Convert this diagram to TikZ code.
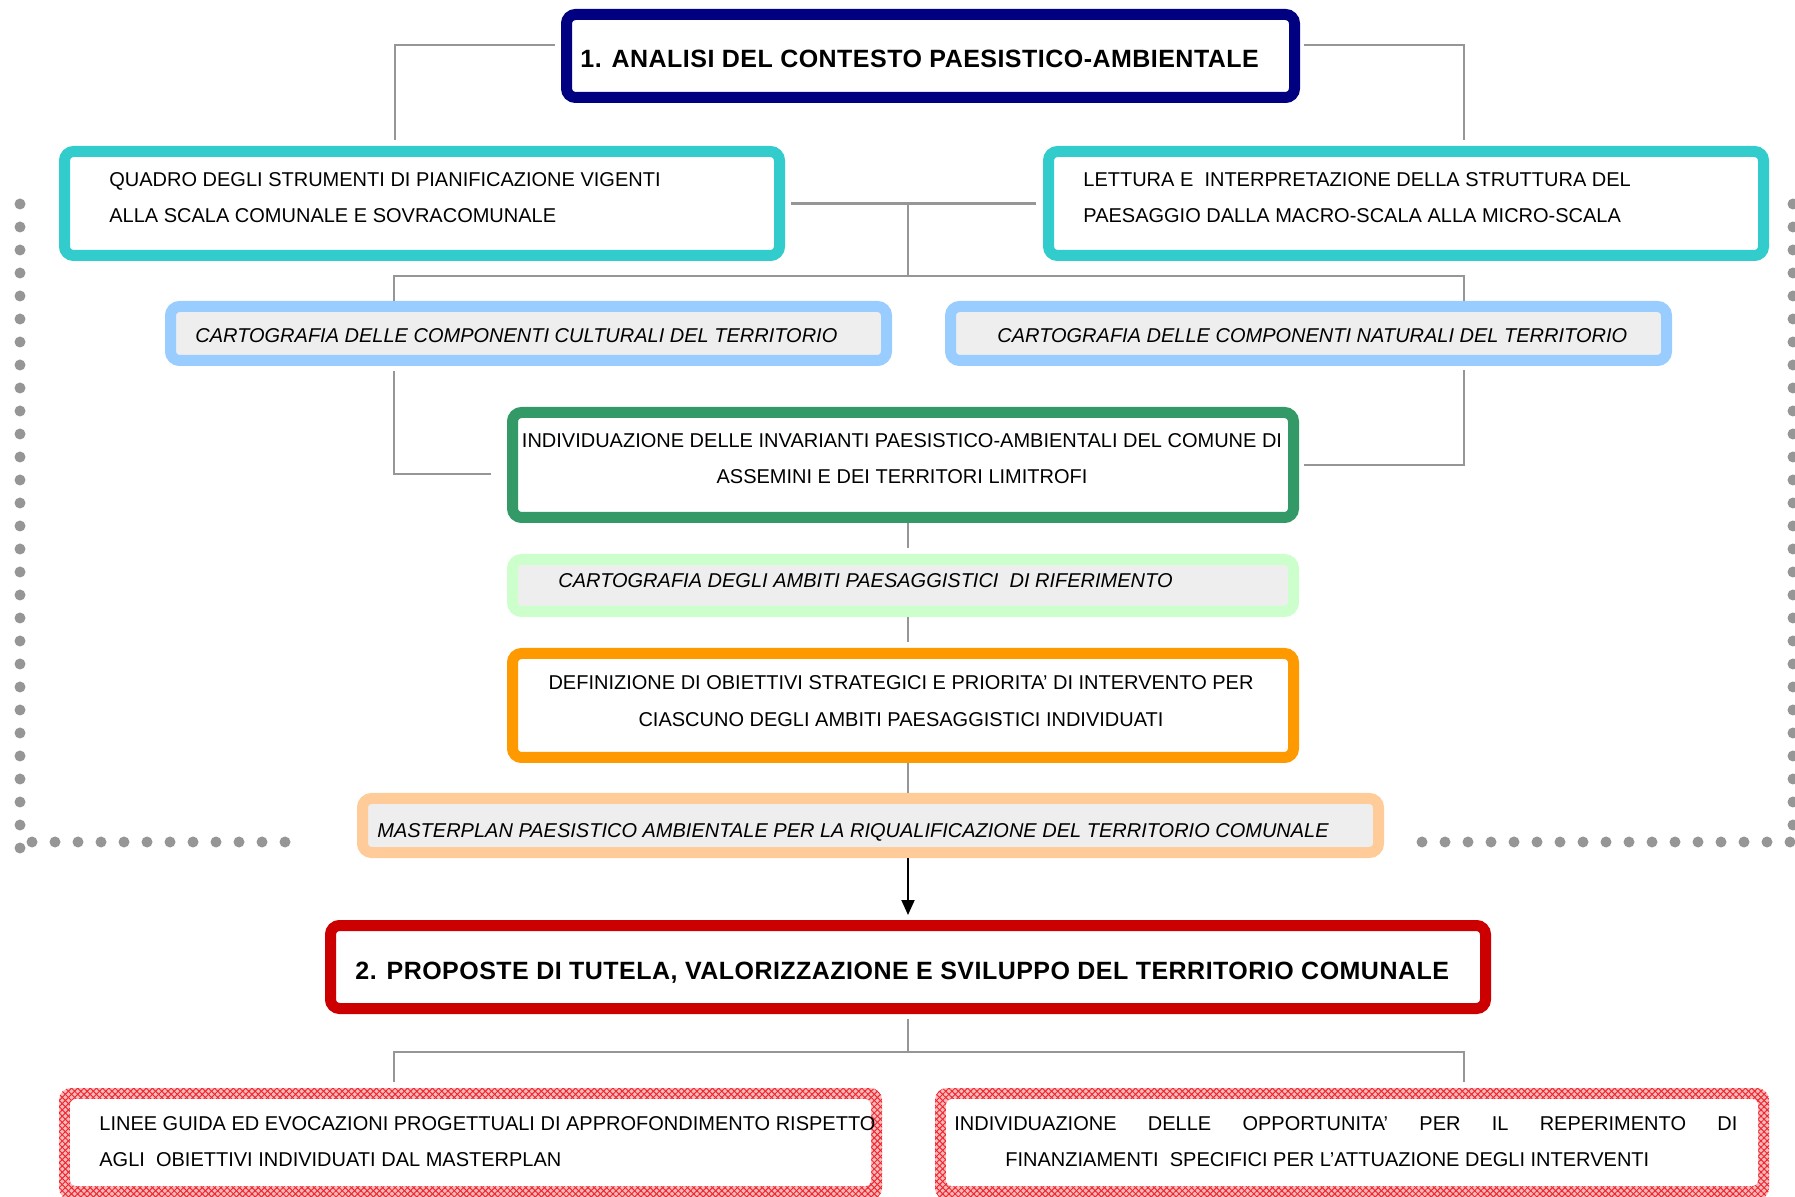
\documentclass[tikz,border=0pt]{standalone}
\usepackage{fontspec}
\setmainfont{Liberation Sans}
\usetikzlibrary{arrows.meta,patterns.meta}
\definecolor{cnavy}{RGB}{0,0,128}
\definecolor{ccyan}{RGB}{51,204,204}
\definecolor{clblue}{RGB}{153,204,255}
\definecolor{cgreen}{RGB}{51,153,102}
\definecolor{clgreen}{RGB}{204,255,204}
\definecolor{corange}{RGB}{255,153,0}
\definecolor{cpeach}{RGB}{255,204,153}
\definecolor{cred}{RGB}{204,0,0}
\definecolor{cpinkbase}{RGB}{255,185,185}
\definecolor{cpinkline}{RGB}{235,40,50}
\definecolor{cgray}{RGB}{150,150,150}
\definecolor{cstip}{RGB}{238,238,238}
\tikzset{
  boxnode/.style={draw=#1, rounded corners=4.5pt, line width=5.5pt, fill=white, inner sep=0pt},
  stipnode/.style={draw=#1, rounded corners=4.5pt, line width=5.5pt, fill=cstip, inner sep=0pt},
  pinkout/.style={rounded corners=6pt, inner sep=0pt, outer sep=0pt, fill=cpinkbase,
    postaction={pattern={Lines[angle=45,distance=2.2pt,line width=0.5pt]}, pattern color=cpinkline},
    postaction={pattern={Lines[angle=-45,distance=2.2pt,line width=0.5pt]}, pattern color=cpinkline}},
  pinkin/.style={rounded corners=3pt, inner sep=0pt, outer sep=0pt, fill=white},
  conn/.style={draw=cgray, line width=1.2pt},
  dotc/.style={fill=cgray, draw=none},
  txt/.style={inner sep=0pt, font=\fontsize{10pt}{12pt}\selectfont},
  itxt/.style={inner sep=0pt, font=\fontsize{10pt}{12pt}\selectfont\itshape},
  btxt/.style={inner sep=0pt, font=\fontsize{12.5pt}{15pt}\selectfont\bfseries\addfontfeature{LetterSpace=1.9}},
}
\begin{document}
\begin{tikzpicture}[x=0.5pt,y=-0.5pt]
\useasboundingbox (0,0) rectangle (1795,1197);

% dotted frame
\foreach \k in {0,...,28} \fill[dotc] (20,204+23*\k) circle (2.75pt);
\foreach \k in {0,...,11} \fill[dotc] (32+23*\k,842) circle (2.75pt);
\foreach \k in {0,...,16} \fill[dotc] (1422+23*\k,842) circle (2.75pt);
\foreach \k in {0,...,27} \fill[dotc] (1793,204+23*\k) circle (2.75pt);

% boxes
\node[boxnode=cnavy, minimum width=364pt, minimum height=41.5pt] (navy) at (930.5,56) {};
\node[boxnode=ccyan, minimum width=357.5pt, minimum height=52pt] (cyanL) at (422,203.5) {};
\node[boxnode=ccyan, minimum width=357.5pt, minimum height=52pt] (cyanR) at (1406,203.5) {};
\node[stipnode=clblue, minimum width=358pt, minimum height=27pt] (blueL) at (528.5,333.5) {};
\node[stipnode=clblue, minimum width=358pt, minimum height=27pt] (blueR) at (1308.5,333.5) {};
\node[boxnode=cgreen, minimum width=390.5pt, minimum height=52.5pt] (green) at (903,465) {};
\node[stipnode=clgreen, minimum width=390.5pt, minimum height=26pt] (lgreen) at (903,585.5) {};
\node[boxnode=corange, minimum width=390.5pt, minimum height=52pt] (orange) at (903,705.5) {};
\node[stipnode=cpeach, minimum width=508pt, minimum height=27pt] (peach) at (870.5,825.5) {};
\node[boxnode=cred, minimum width=577.5pt, minimum height=41.5pt] (red) at (908,967) {};
\node[pinkout, minimum width=411.5pt, minimum height=56pt] (pinkL) at (470.5,1144) {};
\node[pinkin, minimum width=400.5pt, minimum height=43.5pt] (pinkLi) at (470.5,1142.5) {};
\node[pinkout, minimum width=417pt, minimum height=56pt] (pinkR) at (1352,1144) {};
\node[pinkin, minimum width=406pt, minimum height=43.5pt] (pinkRi) at (1352,1142.5) {};

% junctions
\coordinate (j1) at (908,203.5);
\coordinate (j2) at (908,276);
\coordinate (j3) at (908,1052);

% connectors
\draw[conn, shorten <=3pt, shorten >=3pt] ([yshift=5.5pt]navy.west) -| ([xshift=-13.5pt]cyanL.north);
\draw[conn, shorten <=2pt, shorten >=3pt] ([yshift=5.5pt]navy.east) -| ([xshift=29pt]cyanR.north);
\draw[conn, shorten <=3pt, shorten >=3.5pt] (cyanL.east) -- (cyanR.west);
\draw[conn] (j1) -- (j2);
\draw[conn] ([xshift=-67.25pt]blueL.north) |- (j2) -| ([xshift=77.75pt]blueR.north);
\draw[conn, shorten <=2.5pt, shorten >=8pt] ([xshift=-67.25pt]blueL.south) |- ([yshift=-4.5pt]green.west);
\draw[conn, shorten <=2pt, shorten >=2.5pt] ([xshift=77.75pt]blueR.south) |- (green.east);
\draw[conn, shorten <=0pt, shorten >=3pt] ([xshift=2.5pt]green.south) -- ([xshift=2.5pt]lgreen.north);
\draw[conn, shorten <=0pt, shorten >=3pt] ([xshift=2.5pt]lgreen.south) -- ([xshift=2.5pt]orange.north);
\draw[conn, shorten <=0pt, shorten >=0pt] ([xshift=2.5pt]orange.south) -- ([xshift=18.75pt]peach.north);
\draw[line width=1pt, -{Triangle[length=7.5pt,width=6.5pt]}, shorten >=2.5pt] ([xshift=18.75pt]peach.south) -- (red.north);
\draw[conn, shorten <=2.5pt] (red.south) -- (j3);
\draw[conn, shorten <=3pt, shorten >=3pt] ([xshift=-38.25pt]pinkL.north) |- (j3) -| ([xshift=56pt]pinkR.north);

% texts
\node[btxt, anchor=base west] (t1) at (580,68) {1. ANALISI DEL CONTESTO PAESISTICO-AMBIENTALE};
\node[txt, anchor=base west] (t2) at (109,187) {QUADRO DEGLI STRUMENTI DI PIANIFICAZIONE VIGENTI};
\node[txt, anchor=base west] (t3) at (109,223) {ALLA SCALA COMUNALE E SOVRACOMUNALE};
\node[txt, anchor=base west] (t4) at (1083,187) {LETTURA E\ \ INTERPRETAZIONE DELLA STRUTTURA DEL};
\node[txt, anchor=base west] (t5) at (1083,223) {PAESAGGIO DALLA MACRO-SCALA ALLA MICRO-SCALA};
\node[itxt, anchor=base west] (t6) at (195,343) {CARTOGRAFIA DELLE COMPONENTI CULTURALI DEL TERRITORIO};
\node[itxt, anchor=base west] (t7) at (997,343) {CARTOGRAFIA DELLE COMPONENTI NATURALI DEL TERRITORIO};
\node[txt, anchor=base] (t8) at (902,448) {INDIVIDUAZIONE DELLE INVARIANTI PAESISTICO-AMBIENTALI DEL COMUNE DI};
\node[txt, anchor=base] (t9) at (902,484) {ASSEMINI E DEI TERRITORI LIMITROFI};
\node[itxt, anchor=base west] (t10) at (558,588) {CARTOGRAFIA DEGLI AMBITI PAESAGGISTICI\ \ DI RIFERIMENTO};
\node[txt, anchor=base] (t11) at (901,690) {DEFINIZIONE DI OBIETTIVI STRATEGICI E PRIORITA’ DI INTERVENTO PER};
\node[txt, anchor=base] (t12) at (901,727) {CIASCUNO DEGLI AMBITI PAESAGGISTICI INDIVIDUATI};
\node[itxt, anchor=base west] (t13) at (377,837) {MASTERPLAN PAESISTICO AMBIENTALE PER LA RIQUALIFICAZIONE DEL TERRITORIO COMUNALE};
\node[btxt, anchor=base west] (t14) at (355,979) {2. PROPOSTE DI TUTELA, VALORIZZAZIONE E SVILUPPO DEL TERRITORIO COMUNALE};
\node[txt, anchor=base west] (t15) at (99,1130) {LINEE GUIDA ED EVOCAZIONI PROGETTUALI DI APPROFONDIMENTO RISPETTO};
\node[txt, anchor=base west] (t16) at (99,1166) {AGLI\ \ OBIETTIVI INDIVIDUATI DAL MASTERPLAN};
\node[txt, anchor=base west] (t17) at (954,1130) {\makebox[391.5pt][s]{INDIVIDUAZIONE DELLE OPPORTUNITA’ PER IL REPERIMENTO DI}};
\node[txt, anchor=base west] (t18) at (1005,1166) {FINANZIAMENTI\ \ SPECIFICI PER L’ATTUAZIONE DEGLI INTERVENTI};
\end{tikzpicture}
\end{document}
